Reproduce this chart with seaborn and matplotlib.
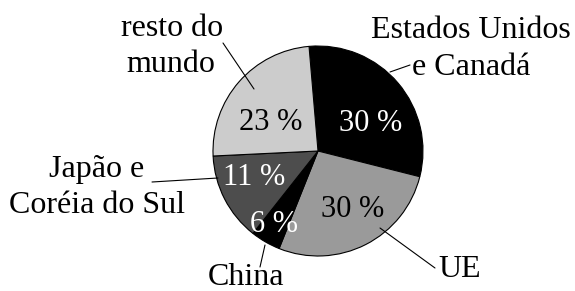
import matplotlib
matplotlib.use("Agg")
import matplotlib.pyplot as plt
import seaborn as sns

regions = ["Estados Unidos\ne Canadá", "UE", "China", "Japão e\nCoréia do Sul", "resto do\nmundo"]
shares = [30.3, 27.1, 4.6, 13.6, 24.4]
pct_labels = ["30 %", "30 %", "6 %", "11 %", "23 %"]
colors = ["#000000", "#9a9a9a", "#000000", "#4d4d4d", "#cccccc"]
pct_colors = ["white", "black", "white", "white", "black"]

sns.set_theme(style="white")
plt.rcParams["font.family"] = "serif"
plt.rcParams["font.serif"] = ["Liberation Serif", "DejaVu Serif"]
FONT = ["Liberation Serif", "DejaVu Serif"]

W, H = 575, 291
CX, CY, R = 318, 151, 105


def px(x, y):
    # pixel position (from top-left) -> data coords of the pie (radius 1)
    return (x - CX) / R, (CY - y) / R


fig = plt.figure(figsize=(W / 100, H / 100), dpi=100)
ax = fig.add_axes([0, 0, 1, 1])
ax.pie(
    shares,
    colors=colors,
    startangle=94.9,
    counterclock=False,
    wedgeprops=dict(edgecolor="black", linewidth=0.8),
)
ax.set_xlim(-CX / R, (W - CX) / R)
ax.set_ylim(-(H - CY) / R, CY / R)
ax.set_aspect("auto")
ax.axis("off")

# layout of the text (line centre x, baseline y, in pixels)
label_pos = [
    [(471, 38), (471, 75)],
    [(460, 277)],
    [(246, 285)],
    [(97, 177), (97, 213)],
    [(172, 36), (171, 72)],
]
leaders = [
    ((390, 72), (410, 65)),
    ((380, 228), (435, 268)),
    ((265, 245), (260, 267)),
    ((218, 178), (152, 182)),
    ((254, 89), (223, 43)),
]
pct_pos = [(371, 131), (353, 217), (274, 232), (254, 185), (270.5, 130.5)]

for name, lines_pos, (a, b) in zip(regions, label_pos, leaders):
    for line, (x, y) in zip(name.split("\n"), lines_pos):
        ax.text(*px(x, y), line, ha="center", va="baseline", fontsize=23,
                color="black", family=FONT)
    (x0, y0), (x1, y1) = px(*a), px(*b)
    ax.plot([x0, x1], [y0, y1], color="black", lw=0.8)

for txt, (x, y), c in zip(pct_labels, pct_pos, pct_colors):
    ax.text(*px(x, y), txt, ha="center", va="baseline", fontsize=22,
            color=c, family=FONT)

fig.savefig("out.png", dpi=100, facecolor="white")
